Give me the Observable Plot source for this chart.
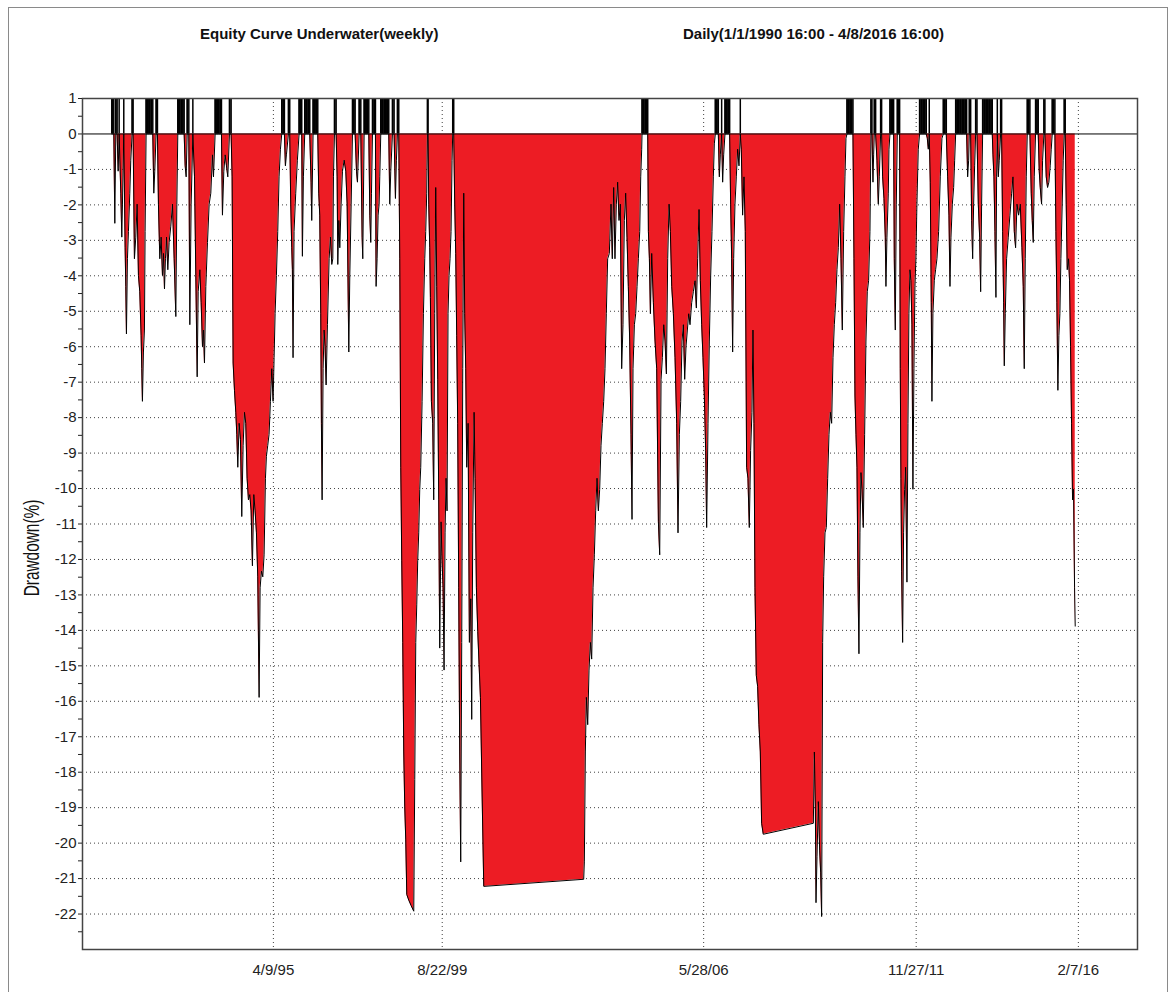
<!DOCTYPE html>
<html><head><meta charset="utf-8">
<script src="https://cdn.jsdelivr.net/npm/d3@7"></script>
<script src="https://cdn.jsdelivr.net/npm/@observablehq/plot@0.6"></script>
<style>
html,body{margin:0;padding:0;background:#fff;overflow:hidden;}
#wrap{position:relative;width:1176px;height:992px;overflow:hidden;}
#border{position:absolute;left:8px;top:7px;width:1158px;height:1000px;border:1px solid #8a8a8a;}
#chart{position:absolute;left:0;top:0;}
.title{position:absolute;top:26px;font:bold 15px "Liberation Sans",Arial,sans-serif;line-height:15px;color:#111;white-space:nowrap;}
#ylab{position:absolute;left:32px;top:548px;font:22px "Liberation Sans",Arial,sans-serif;line-height:22px;color:#111;white-space:nowrap;transform:translate(-50%,-50%) rotate(-90deg) scaleX(0.7);}
</style></head><body>
<div id="wrap">
<div id="border"></div>
<div id="chart"></div>
<div class="title" style="left:200px">Equity Curve Underwater(weekly)</div>
<div class="title" style="left:683px">Daily(1/1/1990 16:00 - 4/8/2016 16:00)</div>
<div id="ylab">Drawdown(%)</div>
</div>
<script>
// week positions as decimal years
const weekYears = [
1991.087,1991.113,1991.139,1991.165,1991.190,1991.225,1991.251,1991.277,1991.320,1991.346,
1991.363,1991.397,1991.432,1991.449,1991.466,1991.492,1991.518,1991.553,1991.578,1991.613,
1991.639,1991.673,1991.708,1991.742,1991.777,1991.811,1991.846,1991.863,1991.880,1991.906,
1991.932,1991.949,1991.975,1992.018,1992.061,1992.105,1992.148,1992.174,1992.199,1992.234,
1992.268,1992.294,1992.329,1992.363,1992.398,1992.424,1992.450,1992.475,1992.501,1992.536,
1992.570,1992.613,1992.656,1992.700,1992.743,1992.769,1992.794,1992.838,1992.881,1992.924,
1992.958,1992.984,1993.010,1993.036,1993.079,1993.105,1993.139,1993.183,1993.226,1993.260,
1993.295,1993.321,1993.364,1993.398,1993.433,1993.459,1993.484,1993.519,1993.562,1993.605,
1993.648,1993.691,1993.717,1993.760,1993.803,1993.847,1993.890,1993.924,1993.950,1993.985,
1994.019,1994.054,1994.088,1994.131,1994.174,1994.200,1994.226,1994.261,1994.295,1994.321,
1994.347,1994.381,1994.416,1994.450,1994.485,1994.519,1994.554,1994.588,1994.623,1994.657,
1994.692,1994.726,1994.761,1994.795,1994.830,1994.864,1994.899,1994.925,1994.959,1994.994,
1995.028,1995.063,1995.088,1995.123,1995.157,1995.192,1995.226,1995.261,1995.287,1995.313,
1995.347,1995.382,1995.416,1995.451,1995.485,1995.520,1995.554,1995.580,1995.606,1995.658,
1995.692,1995.718,1995.744,1995.761,1995.778,1995.804,1995.847,1995.890,1995.934,1995.968,
1996.003,1996.020,1996.046,1996.080,1996.123,1996.166,1996.210,1996.244,1996.261,1996.296,
1996.339,1996.382,1996.417,1996.442,1996.468,1996.494,1996.511,1996.529,1996.555,1996.580,
1996.606,1996.632,1996.667,1996.710,1996.744,1996.779,1996.805,1996.822,1996.848,1996.891,
1996.917,1996.934,1996.960,1996.986,1997.020,1997.055,1997.098,1997.141,
1997.176,1997.219,1997.245,1997.280,1997.314,1997.349,1997.383,1997.418,1997.443,1997.487,
1997.530,1997.564,1997.581,1997.616,1997.659,1997.702,1997.737,1997.763,1997.788,1997.806,
1997.832,1997.875,1997.909,1997.926,1997.952,1997.978,1998.004,1998.021,1998.047,1998.090,
1998.133,1998.176,1998.220,1998.254,1998.280,1998.306,1998.349,1998.392,1998.427,1998.452,
1998.478,1998.513,1998.539,1998.565,1998.590,1998.616,1998.642,1998.668,1998.694,1998.720,
1998.772,1998.832,1998.901,1998.927,1998.953,1998.979,1999.004,1999.030,1999.056,1999.082,
1999.117,1999.151,1999.186,1999.211,1999.237,1999.255,1999.272,1999.289,1999.315,1999.332,
1999.358,1999.392,1999.418,1999.444,1999.470,1999.496,1999.522,1999.548,1999.574,1999.608,
1999.634,1999.660,1999.686,1999.712,1999.737,1999.763,1999.789,1999.815,1999.841,1999.867,
1999.893,1999.910,1999.936,1999.962,1999.988,2000.013,2000.039,2000.065,2000.091,2000.117,
2000.143,2000.169,2000.195,2000.220,2000.246,2000.272,2000.307,2000.341,2000.376,2000.401,
2000.427,2000.462,2000.488,2000.522,2000.557,2000.591,2000.626,2000.660,2000.712,2003.299,
2003.316,2003.342,2003.368,2003.403,2003.437,2003.472,2003.506,2003.541,2003.575,2003.610,
2003.644,2003.679,2003.713,2003.748,2003.782,2003.817,2003.851,2003.885,2003.920,
2003.963,2004.006,2004.040,2004.075,2004.109,2004.144,2004.178,2004.213,2004.247,2004.282,
2004.316,2004.351,2004.385,2004.420,2004.454,2004.489,2004.523,2004.549,2004.575,2004.610,
2004.644,2004.679,2004.713,2004.748,2004.774,2004.799,2004.808,2004.843,2004.886,2004.929,
2004.955,2004.972,2004.998,2005.024,2005.058,2005.101,2005.144,2005.187,2005.231,2005.265,
2005.300,2005.334,2005.369,2005.403,2005.438,2005.472,2005.507,2005.541,2005.576,2005.619,
2005.662,2005.705,2005.739,2005.774,2005.808,2005.843,2005.877,2005.912,2005.946,2005.981,
2006.015,2006.050,2006.093,2006.136,2006.179,2006.214,2006.248,2006.283,2006.317,2006.352,
2006.386,2006.421,2006.455,2006.481,2006.516,2006.550,2006.585,2006.619,2006.654,2006.679,
2006.705,2006.740,2006.783,2006.809,2006.835,2006.869,2006.895,2006.921,2006.955,2006.999,
2007.042,2007.076,2007.102,2007.128,2007.154,2007.180,2007.214,2007.249,2007.283,2007.318,
2007.352,2007.378,2007.412,2007.447,2007.481,2007.516,2007.550,2007.585,2007.619,2007.654,
2007.680,2007.706,2007.732,2007.766,2007.801,2007.835,2007.870,2007.904,2007.947,2009.241,
2009.267,2009.293,2009.310,2009.336,2009.370,2009.405,2009.431,2009.456,2009.482,2009.508,
2009.543,2009.577,2009.612,2009.646,2009.681,2009.715,2009.750,2009.784,2009.819,2009.853,
2009.888,2009.922,2009.957,2009.991,2010.026,2010.060,2010.086,2010.112,2010.146,2010.189,
2010.233,2010.267,2010.293,2010.319,2010.345,2010.371,2010.396,2010.422,2010.448,2010.474,
2010.500,2010.534,2010.569,2010.603,2010.638,2010.672,2010.707,
2010.733,2010.759,2010.785,2010.802,2010.819,2010.854,2010.888,2010.923,2010.949,2010.983,
2011.009,2011.035,2011.070,2011.104,2011.121,2011.147,2011.182,2011.199,2011.225,2011.259,
2011.294,2011.320,2011.337,2011.363,2011.389,2011.415,2011.449,2011.475,2011.492,2011.509,
2011.527,2011.553,2011.578,2011.604,2011.630,2011.665,2011.691,2011.716,2011.742,2011.768,
2011.794,2011.820,2011.846,2011.872,2011.897,2011.923,2011.958,2011.992,2012.035,2012.079,
2012.122,2012.165,2012.191,2012.217,2012.242,2012.268,2012.294,2012.311,2012.337,2012.372,
2012.406,2012.441,2012.484,2012.527,2012.570,2012.605,2012.639,2012.682,2012.717,2012.751,
2012.777,2012.803,2012.838,2012.872,2012.898,2012.924,2012.958,2013.001,2013.044,2013.088,
2013.131,2013.174,2013.208,2013.234,2013.260,2013.277,2013.312,2013.338,2013.364,2013.389,
2013.415,2013.441,2013.476,2013.510,2013.545,2013.571,2013.596,2013.622,2013.665,2013.708,
2013.752,2013.795,2013.838,2013.872,2013.890,2013.915,2013.941,2013.967,2013.984,2014.002,
2014.028,2014.053,2014.088,2014.114,2014.140,2014.166,2014.183,2014.209,2014.243,2014.286,
2014.329,2014.373,2014.407,2014.442,2014.476,2014.511,2014.554,2014.597,2014.640,2014.674,
2014.700,2014.726,2014.752,2014.778,2014.812,2014.847,2014.881,2014.907,2014.933,2014.959,
2014.993,2015.028,2015.062,2015.088,2015.114,2015.149,2015.175,2015.209,2015.235,2015.269,
2015.304,2015.338,2015.373,2015.399,2015.425,2015.459,2015.494,2015.520,2015.545,2015.571,
2015.597,2015.623,2015.649,2015.683,2015.709,2015.735,2015.761,2015.787,2015.813,2015.847,
2015.873,2015.899,2015.925,2015.951,2015.977,2016.003,2016.020
];
// drawdown in percent (0 = new equity high)
const drawdownPct = [
0,0,0,-2.52,0,0,-1.05,0,-1.67,-2.91,
-1.98,0,-3.21,-4.30,-5.64,-3.52,-2.75,-1.67,-0.74,0,
0,-3.52,-2.91,-1.98,-3.99,-4.45,-5.69,-6.62,-7.54,-6.15,
-5.53,-2.75,0,0,0,0,0,-1.67,-1.05,0,
0,-1.98,-3.52,-2.91,-3.99,-3.37,-4.37,-3.52,-2.91,-3.83,
-3.06,-2.60,-1.98,-3.52,-5.15,-1.98,0,0,0,0,
0,-0.90,-1.21,0,0,-5.38,-1.98,0,-1.21,-3.99,
-6.85,-4.45,-3.83,-4.76,-6.00,-5.53,-6.46,-4.30,-3.06,-1.98,
-1.67,-0.59,-1.21,0,0,0,0,0,-2.29,-1.05,
-0.59,-0.90,-1.21,0,0,-1.21,-6.46,-7.23,-7.85,-8.47,
-9.40,-8.16,-8.62,-10.79,-8.78,-7.85,-8.16,-9.71,-10.32,-10.17,
-10.63,-12.18,-10.17,-10.63,-11.25,-12.49,-15.89,-12.80,-12.33,-12.49,
-11.87,-9.71,-9.09,-8.78,-8.47,-7.54,-6.62,-7.54,-6.31,-5.07,
-3.99,-2.75,-1.21,-0.43,0,0,0,-0.90,-0.59,0,
0,-1.98,-3.21,-3.83,-6.31,-2.75,-1.67,-0.74,0,0,
0,-3.45,-1.21,0,0,0,0,-1.36,-2.44,0,
0,0,0,-1.67,-2.29,-5.07,-8.16,-10.32,-6.62,-5.53,
-6.00,-7.08,-5.38,-3.52,-2.91,-3.68,-3.52,-1.21,0,0,
-1.21,-3.68,-2.44,-3.21,-1.98,-1.05,-0.74,-1.05,
-1.98,-6.15,-3.99,-1.98,0,0,0,-1.05,-1.36,0,
0,-2.91,-3.52,0,0,0,0,-2.29,-3.06,-1.67,
0,0,0,-4.30,-3.52,-2.29,-1.98,-1.21,0,0,
0,0,0,0,-1.98,-1.05,0,0,-1.82,-0.74,
0,0,-3.52,-9.40,-12.02,-14.34,-17.43,-18.98,-19.91,-21.45,
-21.61,-21.76,-21.92,-18.21,-14.34,-13.26,-12.02,-11.25,-10.02,-9.40,
-7.54,-5.07,-3.52,-2.75,-1.67,0,0,-1.98,-3.21,-4.61,
-7.54,-8.16,-10.32,-5.07,-1.51,-4.30,-6.92,-10.32,-14.50,-10.94,
-12.02,-12.80,-15.12,-11.25,-9.71,-10.63,-5.07,-3.99,-3.52,-2.75,
-0.74,0,0,-1.98,-3.37,-5.69,-8.16,-12.80,-17.43,-20.53,
-14.34,-6.62,-1.67,-5.07,-6.62,-9.40,-8.16,-14.34,-13.11,-16.51,
-11.25,-7.85,-9.71,-12.80,-14.03,-14.96,-15.89,-18.05,-21.22,-21.02,
-20.53,-17.43,-15.89,-16.66,-15.12,-14.34,-14.81,-12.80,-11.87,-10.63,
-9.71,-10.63,-10.02,-8.78,-8.16,-7.54,-6.62,-5.07,-3.52,
-3.37,-1.98,-3.52,-1.51,-3.52,-1.98,-1.36,-2.44,-1.98,-6.62,
-5.38,-2.44,-1.67,-2.91,-4.30,-5.84,-8.47,-10.87,-6.62,-5.38,
-5.07,-4.30,-3.52,-2.75,-1.21,-0.43,0,0,0,0,
0,-2.75,-3.52,-5.07,-3.37,-4.76,-5.84,-6.62,-10.94,-11.87,
-6.92,-6.31,-5.38,-5.84,-6.77,-3.52,-1.98,-2.75,-4.30,-5.07,
-6.31,-8.16,-11.25,-8.47,-7.54,-5.84,-5.38,-6.92,-6.00,-5.53,
-5.07,-5.38,-4.76,-4.45,-4.14,-4.91,-3.52,-2.13,-4.14,-5.38,
-6.31,-7.39,-8.93,-11.10,-8.16,-5.84,-3.99,-2.75,-1.21,-0.28,
0,0,0,-1.21,-0.59,0,-1.36,-0.59,0,0,
0,0,-1.98,-3.52,-6.15,-3.52,-1.98,-1.21,-0.43,-0.90,
0,-0.43,-2.29,-1.21,-2.75,-9.40,-9.71,-11.10,-8.93,-7.85,
-5.53,-8.16,-12.80,-15.27,-15.58,-16.66,-17.43,-19.44,-19.75,-19.44,
-17.43,-18.98,-21.68,-20.37,-18.83,-20.22,-20.84,-22.07,-14.34,-12.49,
-11.25,-11.10,-9.71,-8.47,-7.85,-8.16,-6.31,-5.38,-4.76,-3.83,
-3.21,-1.98,-3.52,-5.53,-2.75,-1.21,-0.12,0,0,0,
0,0,-3.52,-7.39,-8.47,-9.40,-12.49,-14.66,-11.25,-9.55,
-10.02,-11.10,-8.47,-5.84,-4.45,-4.14,-2.75,
0,0,-1.36,-0.59,0,0,-0.74,-1.98,-1.21,0,
0,-1.21,-1.82,-2.91,-4.30,-2.91,-1.67,-0.43,0,0,
0,0,-3.52,-5.53,-1.98,0,0,0,-6.62,-9.71,
-12.33,-14.34,-11.25,-10.02,-9.40,-12.64,-8.16,-5.07,-3.83,-4.14,
-5.38,-10.02,-6.62,-4.30,-3.52,-1.98,-0.43,0,0,0,
0,0,-0.12,-0.43,0,-1.36,-4.76,-7.54,-5.07,-4.14,
-3.83,-3.52,-2.75,-1.21,-0.12,0,0,0,-1.21,-2.29,
-4.30,-2.91,-1.98,-1.51,-0.74,0,0,0,0,0,
0,0,0,-1.21,-0.74,0,0,-2.44,-3.52,-1.98,
-0.90,0,0,-1.98,-2.91,-4.45,-1.98,0,0,0,
0,0,0,0,-0.59,-1.21,-2.75,-4.61,-1.21,0,
-1.21,-0.74,0,0,-2.75,-4.76,-6.54,-5.07,-3.52,-2.91,
-2.29,-1.67,-1.21,-2.75,-3.21,-1.98,-2.29,-1.98,-3.21,-4.30,
-6.62,-3.52,-1.21,0,0,0,-1.67,-2.44,-3.06,-1.21,
0,0,0,-1.05,-1.51,-1.98,-0.74,0,0,-1.21,
-1.51,-1.36,-0.90,-0.43,0,0,0,-2.75,-4.76,-7.23,
-5.69,-5.07,-3.52,-1.98,-0.74,0,0,-1.98,-3.83,-3.52,
-4.14,-6.00,-8.16,-10.32,-10.02,-12.80,-13.88
];
const tickDates = ["1995-04-09","1999-08-22","2006-05-28","2011-11-27","2016-02-07"];
const tickLabels = ["4/9/95","8/22/99","5/28/06","11/27/11","2/7/16"];
const yTicks = [1,0,-1,-2,-3,-4,-5,-6,-7,-8,-9,-10,-11,-12,-13,-14,-15,-16,-17,-18,-19,-20,-21,-22];
const yMinorTicks = [0.5,-0.5,-1.5,-2.5,-3.5,-4.5,-5.5,-6.5,-7.5,-8.5,-9.5,-10.5,-11.5,-12.5,-13.5,-14.5,-15.5,-16.5,-17.5,-18.5,-19.5,-20.5,-21.5,-22.5];
const xRange = [1990.328, 2017.63];

if (weekYears.length !== drawdownPct.length) console.error("length mismatch", weekYears.length, drawdownPct.length);

function toDate(y) {
  const yr = Math.floor(y);
  const s = Date.UTC(yr, 0, 1), e = Date.UTC(yr + 1, 0, 1);
  return new Date(s + (y - yr) * (e - s));
}
const data = weekYears.map((w, i) => ({date: toDate(w), dd: drawdownPct[i]}));
const highs = data.filter(d => d.dd === 0);
const highRuns = [];
for (let i = 0; i < data.length - 1; i++) {
  if (data[i].dd === 0 && data[i + 1].dd === 0) highRuns.push({x1: data[i].date, x2: data[i + 1].date});
}
const tickDateObjs = tickDates.map(s => new Date(s + "T00:00:00Z"));
const labelFor = d => { const k = tickDateObjs.findIndex(t => +t === +d); return k >= 0 ? tickLabels[k] : ""; };

const chart = Plot.plot({
  width: 1176,
  height: 992,
  marginLeft: 82,
  marginRight: 39,
  marginTop: 98,
  marginBottom: 43,
  style: {fontFamily: '"Liberation Sans", Arial, sans-serif', fontSize: "15px", color: "#222", background: "transparent"},
  x: {type: "utc", domain: xRange.map(toDate)},
  y: {domain: [-23, 1]},
  marks: [
    Plot.ruleY(yTicks.filter(v => v < 0), {stroke: "#000", strokeDasharray: "1,3", strokeWidth: 1, strokeOpacity: 0.75}),
    Plot.ruleX(tickDateObjs, {stroke: "#000", strokeDasharray: "1,3", strokeWidth: 1, strokeOpacity: 0.75}),
    Plot.areaY(data, {x: "date", y1: 0, y2: "dd", fill: "#ed1c24"}),
    Plot.line(data, {x: "date", y: "dd", stroke: "#000", strokeWidth: 1}),
    Plot.rect(highRuns, {x1: "x1", x2: "x2", y1: 0, y2: 1, fill: "#000", inset: 0}),
    Plot.ruleX(highs, {x: "date", y1: 0, y2: 1, stroke: "#000", strokeWidth: 1.5}),
    Plot.ruleY([0], {stroke: "#000", strokeWidth: 1}),
    Plot.frame({stroke: "#444", strokeWidth: 1.5}),
    Plot.axisY(yTicks, {tickSize: 4, tickPadding: 2, tickFormat: d => String(d), label: null, fontSize: 15}),
    Plot.axisY(yMinorTicks, {tickSize: 4, tickFormat: () => "", label: null}),
    Plot.axisX(tickDateObjs, {tickSize: 0, tickPadding: 15, tickFormat: labelFor, label: null, fontSize: 15})
  ]
});
document.getElementById("chart").appendChild(chart);
</script>
</body></html>
